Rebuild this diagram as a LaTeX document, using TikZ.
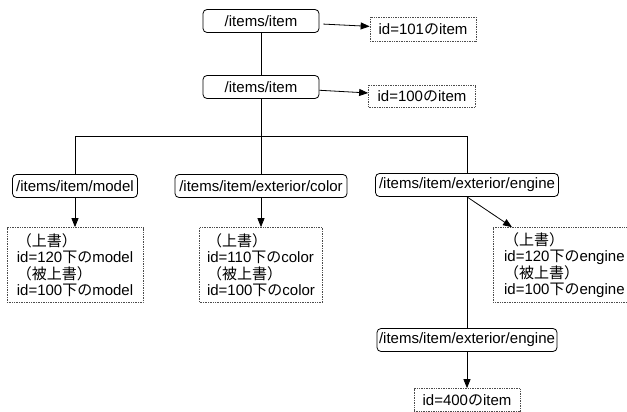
\documentclass[tikz,border=0pt]{standalone}
\usepackage{fontspec}
\setmainfont{Liberation Sans}
\newfontfamily\ja{Noto Sans CJK JP}
\usetikzlibrary{positioning,arrows.meta}

\begin{document}
\begin{tikzpicture}[x=1pt,y=-1pt,>={Triangle[length=9pt,width=7pt]},font=\fontsize{15}{16.5}\selectfont,
   line width=0.8pt,
   xpath/.style={draw, rounded corners=4pt, minimum height=23pt, inner sep=2pt, fill=white},
   result/.style={draw, densely dotted, line width=0.7pt, black!70, text=black, align=left, inner sep=3pt}]
   \useasboundingbox (0,0) rectangle (627,412);
   % paths
   \node[xpath, minimum width=116pt] (item_a) at (261,21) {/items/item};
   \node[xpath, minimum width=116pt] (item_b) at (261,87) {/items/item};
   \node[xpath, minimum width=125pt] (model) at (75,186) {/items/item/model};
   \node[xpath, minimum width=172pt] (color) at (261,186) {/items/item/exterior/color};
   \node[xpath, minimum width=183pt] (engine_a) at (467,185) {/items/item/exterior/engine};
   \node[xpath, minimum width=180pt] (engine_b) at (467,340) {/items/item/exterior/engine};
   % results
   \node[result, minimum width=106pt, minimum height=24pt] (res_101) at (423,29) {id=101{\ja の}item};
   \node[result, minimum width=107pt, minimum height=22pt] (res_100) at (422,96) {id=100{\ja の}item};
   \node[result, minimum width=136pt, minimum height=75pt] (res_model) at (75,265)
      {{\ja （上書）}\\id=120{\ja 下の}model\\{\ja （被上書）}\\id=100{\ja 下の}model};
   \node[result, minimum width=123pt, minimum height=75pt] (res_color) at (261,265)
      {{\ja （上書）}\\id=110{\ja 下の}color\\{\ja （被上書）}\\id=100{\ja 下の}color};
   \node[result, minimum width=142pt, minimum height=75pt, anchor=west] (res_engine) at (493,265)
      {{\ja （上書）}\\id=120{\ja 下の}engine\\{\ja （被上書）}\\id=100{\ja 下の}engine};
   \node[result, minimum width=106pt, minimum height=23pt] (res_400) at (467,400) {id=400{\ja の}item};
   \coordinate (fork) at (261,136);
   % tree
   \draw (item_a) -- (item_b);
   \draw (item_b) -- (fork);
   \draw (fork) -| (model.north);
   \draw (fork) -- (color);
   \draw (fork) -| (engine_a.north);
   \draw (engine_a) -- (engine_b);
   \path[->]
    (item_a) edge [shorten <=4pt] (res_101)
    (item_b) edge (res_100)
    (model) edge (res_model)
    (color) edge (res_color)
    (engine_a.south) edge ([xshift=19pt]res_engine.north west)
    (engine_b) edge (res_400);
\end{tikzpicture}
\end{document}
